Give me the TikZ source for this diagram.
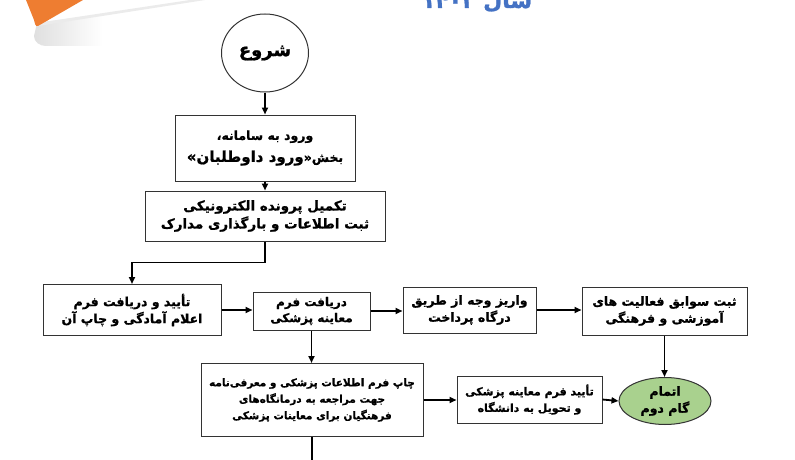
\documentclass[tikz,border=0pt]{standalone}
\usepackage{fontspec}
\usetikzlibrary{shapes.geometric,arrows.meta}
\newfontfamily\fa[Script=Arabic, BoldFeatures={FakeBold=1}]{DejaVu Sans}
\TeXXeTstate=1
\newcommand{\rtxt}[1]{\beginR#1\endR}
\definecolor{orng}{HTML}{EE7D31}
\definecolor{ttlblue}{HTML}{4472C4}
\definecolor{endgreen}{HTML}{A9D18E}
\definecolor{edge}{HTML}{333333}
\pgfdeclarehorizontalshading{curl}{100bp}{color(0bp)=(black!28); color(45bp)=(white); color(100bp)=(white)}
\begin{document}
\begin{tikzpicture}[x=1pt,y=-1pt,
  box/.style={draw=edge, line width=1pt, fill=white, inner sep=1pt, align=center,
    font=\fa\bfseries\fontsize{12.5}{17}\selectfont},
  conn/.style={line width=1.8pt, -{Triangle[length=7pt,width=6pt]}},
  plain/.style={line width=1.8pt},
]
\useasboundingbox (0,0) rectangle (795,460);
\clip (0,0) rectangle (795,460);
\fill[white] (0,0) rectangle (795,460);
% page curl decoration
\shade[shading=curl] (37,23) -- (205,0) -- (205,46) -- (46,46) to[out=180,in=-90] (34,36) -- cycle;
\fill[white!92!black] (38,26) -- (205,0) -- (190,0) -- (37,23) -- cycle;
\fill[orng] (26,0) -- (83,0) -- (38,26) to[out=200,in=-80] (34,20) -- cycle;
% title
\node[anchor=base, text=ttlblue, inner sep=0, font=\fa\bfseries\fontsize{22}{24}\selectfont] (title) at (477,8) {\rtxt{سال \beginL۱۴۰۲\endL{}}};
% nodes
\node[ellipse, draw=edge, line width=1pt, inner sep=0, minimum width=87pt, minimum height=78pt,
  font=\fa\bfseries\fontsize{18}{20}\selectfont] (start) at (265,53) {\rtxt{شروع}};
\node[box, minimum width=180pt, minimum height=66pt] (b1) at (265,148)
  {\rtxt{ورود به سامانه،}\\[5pt]\rtxt{بخش«{\fontsize{15}{18}\selectfont ورود داوطلبان»}}};
\node[box, minimum width=240pt, minimum height=50pt, font=\fa\bfseries\fontsize{13.5}{18}\selectfont] (b2) at (265,216)
  {\rtxt{تکمیل پرونده الکترونیکی}\\\rtxt{ثبت اطلاعات و بارگذاری مدارک}};
\node[box, minimum width=178pt, minimum height=51pt] (b3) at (132,310)
  {\rtxt{تأیید و دریافت فرم}\\\rtxt{اعلام آمادگی و چاپ آن}};
\node[box, minimum width=117pt, minimum height=38pt, font=\fa\bfseries\fontsize{12}{16}\selectfont] (b4) at (311.5,311)
  {\rtxt{دریافت فرم}\\\rtxt{معاینه پزشکی}};
\node[box, minimum width=133pt, minimum height=46pt] (b5) at (469.5,310)
  {\rtxt{واریز وجه از طریق}\\\rtxt{درگاه پرداخت}};
\node[box, minimum width=165pt, minimum height=48pt] (b6) at (664.5,311)
  {\rtxt{ثبت سوابق فعالیت های}\\\rtxt{آموزشی و فرهنگی}};
\node[box, minimum width=222pt, minimum height=73pt, font=\fa\bfseries\fontsize{10.5}{16.5}\selectfont] (b7) at (312,400)
  {\rtxt{چاپ فرم اطلاعات پزشکی و معرفی‌نامه}\\\rtxt{جهت مراجعه به درمانگاه‌های}\\\rtxt{فرهنگیان برای معاینات پزشکی}};
\node[box, minimum width=145pt, minimum height=47pt, font=\fa\bfseries\fontsize{11}{16.5}\selectfont] (b8) at (529.5,399.5)
  {\rtxt{تأیید فرم معاینه پزشکی}\\\rtxt{و تحویل به دانشگاه}};
\node[ellipse, draw=edge, line width=1pt, fill=endgreen, inner sep=0, minimum width=92pt, minimum height=47pt,
  align=center, font=\fa\bfseries\fontsize{12.5}{17}\selectfont] (end) at (665,401)
  {\rtxt{اتمام}\\\rtxt{گام دوم}};
\coordinate (exit) at (312,470);
% connectors
\draw[conn] (start) -- (b1);
\draw[conn] (b1) -- (b2);
\draw[conn] (b2.south) -- ++(0,21) -| (b3.north);
\draw[conn] (b3.east) -- (b3.east -| b4.west);
\draw[conn] (b4.east) -- (b4.east -| b5.west);
\draw[conn] (b5.east) -- (b5.east -| b6.west);
\draw[conn] (b6.south) -- (b6.south |- end.north);
\draw[conn] (b4.south) -- (b4.south |- b7.north);
\draw[conn] (b7.east) -- (b7.east -| b8.west);
\draw[conn] (b8.east) -- (end.west);
\draw[plain] (b7.south) -- (exit);
\end{tikzpicture}
\end{document}
